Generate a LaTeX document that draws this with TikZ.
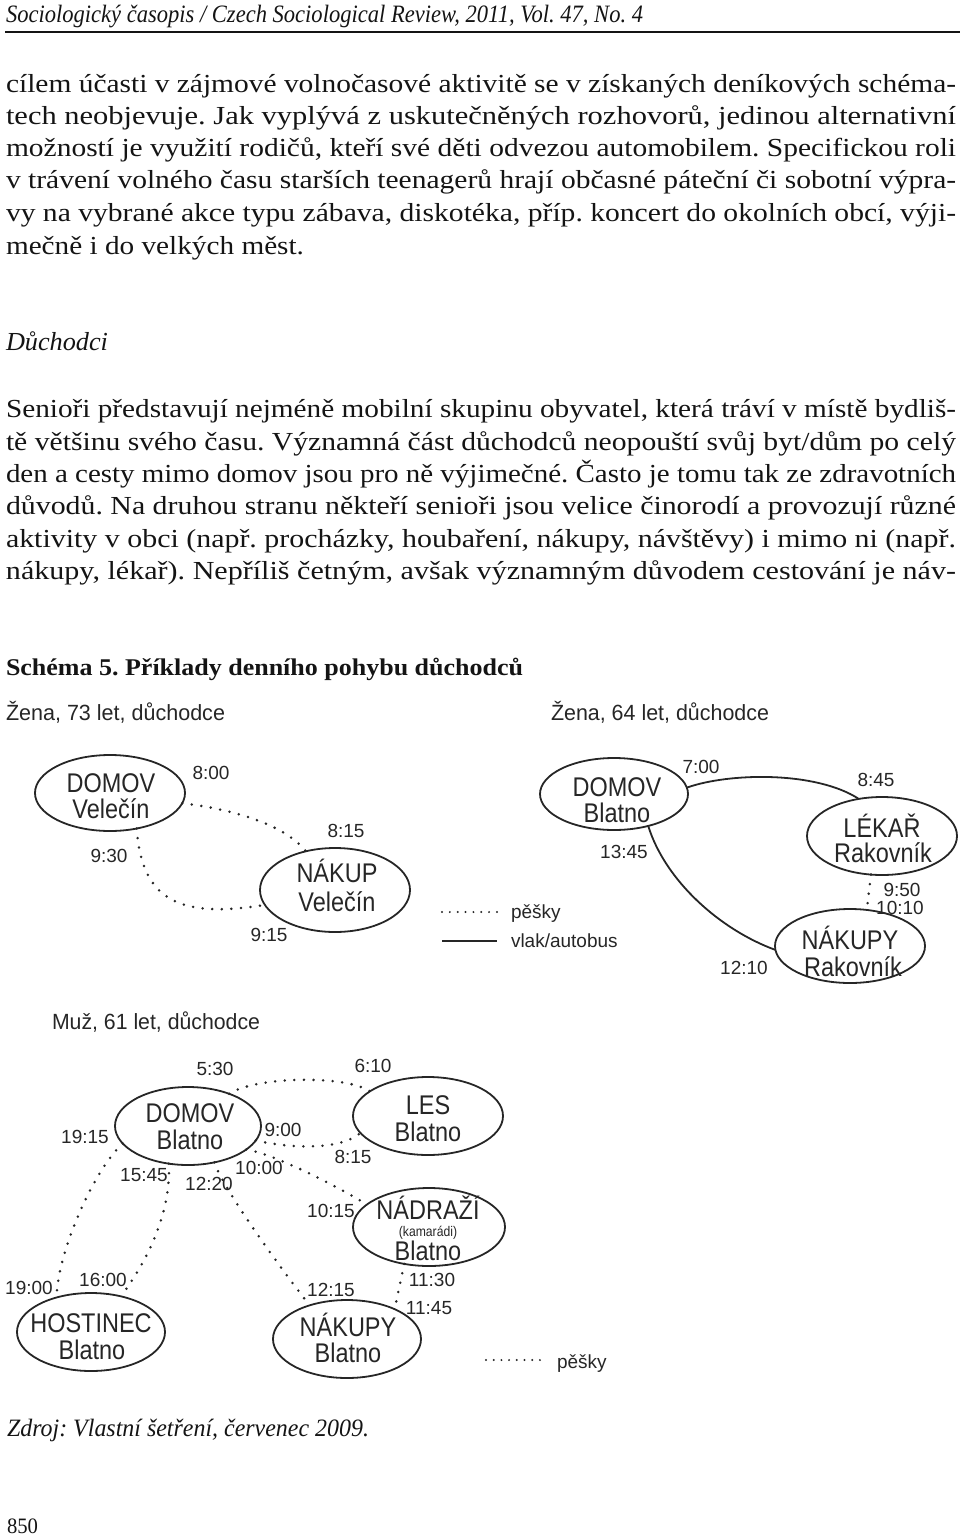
\documentclass[tikz,border=0pt]{standalone}
\usepackage{fontspec}
\usepackage{graphicx}
\usetikzlibrary{shapes.geometric}
\setmainfont{Liberation Serif}
\newfontfamily\nsans[FakeStretch=0.87]{Liberation Sans}
\newfontfamily\lsans{Liberation Sans}
\definecolor{ink}{HTML}{141414}
\definecolor{inkd}{HTML}{262626}
\newcommand\fitw[2]{\resizebox{#1}{\height}{#2}}
\newcommand\mybody{\fontsize{26}{30}\selectfont}
\newcommand\mypl{\nsans\fontsize{27}{29}\selectfont}
\newcommand\mytm{\lsans\fontsize{19}{21}\selectfont}
\newcommand\myttl{\lsans\fontsize{22}{26}\selectfont}
\frenchspacing
\begin{document}
\begin{tikzpicture}[x=1pt,y=-1pt,
  every node/.style={inner sep=0pt, outer sep=0pt},
  txt/.style={anchor=base west, text=ink, font=\mybody},
  place/.style={draw=inkd, line width=1.8pt, ellipse},
  pl/.style={anchor=base, text=inkd, font=\mypl},
  tm/.style={anchor=center, text=inkd, font=\mytm},
  ttl/.style={anchor=base west, text=inkd, font=\myttl},
  walk/.style={draw=inkd, line width=2.8pt, dash pattern=on 0pt off 9.6pt, line cap=round},
  ride/.style={draw=inkd, line width=1.8pt},
]
\useasboundingbox (0,0) rectangle (960,1538);

% header
\node[txt, font=\fontsize{25}{28}\selectfont\itshape] (hd) at (6,23) {\fitw{637pt}{Sociologický časopis / Czech Sociological Review, 2011, Vol. 47, No. 4}};
\coordinate (hl1) at (5,32);
\coordinate (hl2) at (960,32);
\draw[draw=ink, line width=1.4pt] (hl1) -- (hl2);

% paragraph 1
\node[txt] (b1) at (6,93) {\fitw{950pt}{cílem účasti v zájmové volnočasové aktivitě se v získaných deníkových schéma-}};
\node[txt] (b2) at (6,125) {\fitw{950pt}{tech neobjevuje. Jak vyplývá z uskutečněných rozhovorů, jedinou alternativní}};
\node[txt] (b3) at (6,157) {\fitw{950pt}{možností je využití rodičů, kteří své děti odvezou automobilem. Specifickou roli}};
\node[txt] (b4) at (6,189) {\fitw{950pt}{v trávení volného času starších teenagerů hrají občasné páteční či sobotní výpra-}};
\node[txt] (b5) at (6,222) {\fitw{950pt}{vy na vybrané akce typu zábava, diskotéka, příp. koncert do okolních obcí, výji-}};
\node[txt] (b6) at (6,254) {\fitw{298pt}{mečně i do velkých měst.}};

\node[txt, font=\mybody\itshape] (dh) at (6,350) {\fitw{102pt}{Důchodci}};

% paragraph 2
\node[txt] (c1) at (6,417) {\fitw{950pt}{Senioři představují nejméně mobilní skupinu obyvatel, která tráví v místě bydliš-}};
\node[txt] (c2) at (6,450) {\fitw{950pt}{tě většinu svého času. Významná část důchodců neopouští svůj byt/dům po celý}};
\node[txt] (c3) at (6,482) {\fitw{950pt}{den a cesty mimo domov jsou pro ně výjimečné. Často je tomu tak ze zdravotních}};
\node[txt] (c4) at (6,514) {\fitw{950pt}{důvodů. Na druhou stranu někteří senioři jsou velice činorodí a provozují různé}};
\node[txt] (c5) at (6,547) {\fitw{950pt}{aktivity v obci (např. procházky, houbaření, nákupy, návštěvy) i mimo ni (např.}};
\node[txt] (c6) at (6,579) {\fitw{950pt}{nákupy, lékař). Nepříliš četným, avšak významným důvodem cestování je náv-}};

% caption
\node[txt, font=\fontsize{24}{26}\selectfont\bfseries] (sch) at (6,675) {\fitw{517pt}{Schéma 5. Příklady denního pohybu důchodců}};

% titles
\node[ttl] (t1) at (6,720) {\fitw{219pt}{Žena, 73 let, důchodce}};
\node[ttl] (t2) at (551,720) {\fitw{218pt}{Žena, 64 let, důchodce}};
\node[ttl] (t3) at (52,1029) {\fitw{208pt}{Muž, 61 let, důchodce}};

% ---------- diagram 1
\node[place, minimum width=150pt, minimum height=76pt] (d1) at (110,793) {};
\node[pl] (d1a) at (111,792) {DOMOV};
\node[pl] (d1b) at (111,818) {Velečín};
\node[place, minimum width=150pt, minimum height=84pt] (n1) at (335,890) {};
\node[pl] (n1a) at (337,882) {NÁKUP};
\node[pl] (n1b) at (337,911) {Velečín};
\draw[walk] (d1.-8) .. controls +(57,7) and +(-20,-25) .. (n1.127);
\draw[walk] (d1.-53) .. controls +(5,75) and +(-82,13) .. (n1.192);
\node[tm] (l800) at (211,773) {8:00};
\node[tm] (l815a) at (346,831) {8:15};
\node[tm] (l930) at (109,856) {9:30};
\node[tm] (l915) at (269,935) {9:15};

% legend 1
\coordinate (lg1a) at (442,912);
\coordinate (lg1b) at (497,912);
\draw[walk, line width=2.2pt, dash pattern=on 0pt off 7.85pt] (lg1a) -- (lg1b);
\node[anchor=base west, text=inkd, font=\mytm] (lgt1) at (511,918) {pěšky};
\coordinate (lg2a) at (442,941);
\coordinate (lg2b) at (497,941);
\draw[ride] (lg2a) -- (lg2b);
\node[anchor=base west, text=inkd, font=\mytm] (lgt2) at (511,947) {vlak/autobus};

% ---------- diagram 2
\node[place, minimum width=148pt, minimum height=72pt] (d2) at (614,794) {};
\node[pl] (d2a) at (617,796) {DOMOV};
\node[pl] (d2b) at (617,822) {Blatno};
\node[place, minimum width=150pt, minimum height=78pt] (l2) at (882,836) {};
\node[pl] (l2a) at (882,837) {LÉKAŘ};
\node[pl] (l2b) at (883,862) {Rakovník};
\node[place, minimum width=150pt, minimum height=74pt] (n2) at (850,946) {};
\node[pl] (n2a) at (850,949) {NÁKUPY};
\node[pl] (n2b) at (853,976) {Rakovník};
\draw[ride] (d2.5) .. controls +(42,-15) and +(-43,-28) .. (l2.122);
\draw[ride] (d2.-43) .. controls +(17,55) and +(-55,-20) .. (n2.183);
\draw[walk] (l2.-106) -- (n2.65);
\node[tm] (l700) at (701,767) {7:00};
\node[tm] (l845) at (876,780) {8:45};
\node[tm] (l1345) at (624,852) {13:45};
\node[tm] (l950) at (902,890) {9:50};
\node[tm] (l1010) at (900,908) {10:10};
\node[tm] (l1210) at (744,968) {12:10};

% ---------- diagram 3
\node[place, minimum width=146pt, minimum height=78pt] (d3) at (188,1126) {};
\node[pl] (d3a) at (190,1122) {DOMOV};
\node[pl] (d3b) at (190,1149) {Blatno};
\node[place, minimum width=150pt, minimum height=78pt] (les) at (428,1116) {};
\node[pl] (lesa) at (428,1114) {LES};
\node[pl] (lesb) at (428,1141) {Blatno};
\node[place, minimum width=152pt, minimum height=78pt] (nad) at (429,1227) {};
\node[pl] (nada) at (428,1219) {NÁDRAŽÍ};
\node[pl, font=\nsans\fontsize{14}{15}\selectfont] (nadb) at (428,1236) {(kamarádi)};
\node[pl] (nadc) at (428,1260) {Blatno};
\node[place, minimum width=148pt, minimum height=78pt] (hos) at (91,1332) {};
\node[pl] (hosa) at (91,1332) {HOSTINEC};
\node[pl] (hosb) at (92,1359) {Blatno};
\node[place, minimum width=148pt, minimum height=78pt] (nak) at (347,1339) {};
\node[pl] (naka) at (348,1336) {NÁKUPY};
\node[pl] (nakb) at (348,1362) {Blatno};

\draw[walk] (d3.38) .. controls +(25,-17) and +(-25,-17) .. (les.157);
\draw[walk] (d3.-12) .. controls +(25,6) and +(-23,20) .. (les.194);
\draw[walk] (d3.-22) .. controls +(30,5) and +(-30,-18) .. (nad.160);
\draw[walk] (d3.195) .. controls +(-28,25) and +(1,-46) .. (hos.135);
\draw[walk] (d3.243) .. controls +(2,45) and +(31,-42) .. (hos.50);
\draw[walk] (d3.-54) .. controls +(8,25) and +(-35,-45) .. (nak.138);
\draw[walk] (nad.236) -- (nak.32);

\node[tm] (l530) at (215,1069) {5:30};
\node[tm] (l610) at (373,1066) {6:10};
\node[tm] (l1915) at (85,1137) {19:15};
\node[tm] (l900) at (283,1130) {9:00};
\node[tm] (l815b) at (353,1157) {8:15};
\node[tm] (l1545) at (144,1175) {15:45};
\node[tm] (l1000) at (259,1168) {10:00};
\node[tm] (l1220) at (209,1184) {12:20};
\node[tm] (l1015) at (331,1211) {10:15};
\node[tm] (l1900) at (29,1288) {19:00};
\node[tm] (l1600) at (103,1280) {16:00};
\node[tm] (l1215) at (331,1290) {12:15};
\node[tm] (l1130) at (432,1280) {11:30};
\node[tm] (l1145) at (429,1308) {11:45};

% legend 2
\coordinate (lg3a) at (486,1360);
\coordinate (lg3b) at (540,1360);
\draw[walk, line width=2.2pt, dash pattern=on 0pt off 7.7pt] (lg3a) -- (lg3b);
\node[anchor=base west, text=inkd, font=\mytm] (lgt3) at (557,1368) {pěšky};

% source and page number
\node[txt, font=\fontsize{25}{28}\selectfont\itshape] (zdroj) at (7,1436) {\fitw{362pt}{Zdroj: Vlastní šetření, červenec 2009.}};
\node[txt, font=\fontsize{22}{24}\selectfont] (pg) at (7,1533) {\fitw{31pt}{850}};
\end{tikzpicture}
\end{document}
